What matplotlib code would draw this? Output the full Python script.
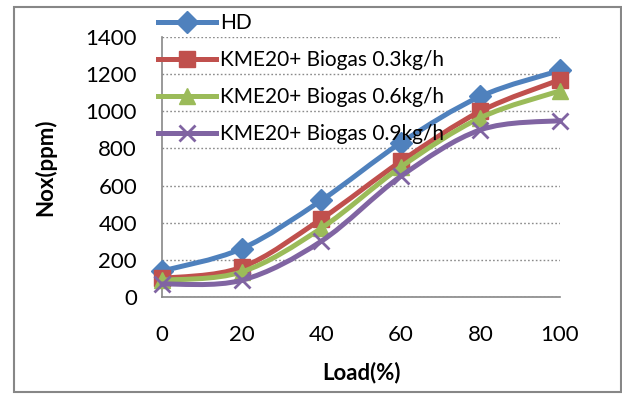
import matplotlib
matplotlib.use('Agg')
import matplotlib.pyplot as plt
from matplotlib.path import Path
from matplotlib.patches import PathPatch, Rectangle
from matplotlib.lines import Line2D
import numpy as np

loads = [0, 20, 40, 60, 80, 100]
hd = [140, 260, 520, 830, 1080, 1220]
b03 = [100, 160, 420, 730, 1000, 1170]
b06 = [90, 135, 370, 700, 965, 1110]
b09 = [70, 90, 300, 650, 900, 950]
labels = ['HD', 'KME20+ Biogas 0.3kg/h', 'KME20+ Biogas 0.6kg/h', 'KME20+ Biogas 0.9kg/h']
y_ticks = [0, 200, 400, 600, 800, 1000, 1200, 1400]

colors = ['#4F81BD', '#C0504D', '#9BBB59', '#8064A2']
markers = ['D', 's', '^', 'x']
msizes = [11, 11, 12, 12]

plt.rcParams['font.family'] = ['Lato', 'DejaVu Sans']

W, H = 622, 394
fig = plt.figure(figsize=(W / 100, H / 100), dpi=100)
ax = fig.add_axes([162 / W, 1 - 297 / H, (560 - 162) / W, (297 - 37) / H])


def smooth_path(x, y):
    pts = np.column_stack([x, y]).astype(float)
    n = len(pts)
    verts = [pts[0]]
    codes = [Path.MOVETO]
    for i in range(n - 1):
        p0 = pts[i - 1] if i > 0 else pts[i]
        p1 = pts[i]
        p2 = pts[i + 1]
        p3 = pts[i + 2] if i + 2 < n else pts[i + 1]
        c1 = p1 + (p2 - p0) / 6.0
        c2 = p2 - (p3 - p1) / 6.0
        verts += [c1, c2, p2]
        codes += [Path.CURVE4] * 3
    return Path(verts, codes)


series = [hd, b03, b06, b09]
handles = []
for k, (vals, c, m, ms) in enumerate(zip(series, colors, markers, msizes)):
    z = 3 + k
    patch = PathPatch(smooth_path(loads, vals), facecolor='none', edgecolor=c,
                      lw=3.6, capstyle='round', joinstyle='round', zorder=z, clip_on=False)
    ax.add_patch(patch)
    mew = 2.0 if m == 'x' else 1.0
    ax.plot(loads, vals, linestyle='none', marker=m, ms=ms, color=c, mec=c, mew=mew,
            zorder=z, clip_on=False)
    handles.append(Line2D([], [], color=c, lw=3.6, marker=m, ms=ms, mec=c, mew=mew))

ax.set_xlim(0, 100)
ax.set_ylim(0, 1400)
ax.set_xticks(loads)
ax.set_yticks(y_ticks)
ax.tick_params(axis='y', length=0, labelsize=16, pad=18)
ax.tick_params(axis='x', length=0, labelsize=16, pad=20)
ax.grid(axis='y', linestyle=(0, (1.2, 1.6)), color='#8a8a8a', lw=1.0)
ax.set_axisbelow(True)
for s in ['top', 'right']:
    ax.spines[s].set_visible(False)
for s in ['left', 'bottom']:
    ax.spines[s].set_color('#878787')
    ax.spines[s].set_linewidth(1.2)

ax.set_xlabel('Load(%)', fontsize=16, fontweight='bold', labelpad=12)
ax.set_ylabel('Nox(ppm)', fontsize=16, fontweight='bold', labelpad=21)

leg = fig.legend(handles, labels, loc='upper left', bbox_to_anchor=(158 / W, 1 - 13 / H),
                 frameon=False, fontsize=15, handlelength=2.8, handletextpad=0.2,
                 labelspacing=0.82, borderpad=0, borderaxespad=0, numpoints=1)
leg.set_zorder(10)

fig.patches.append(Rectangle((14 / W, 1 - 392 / H), (621 - 14) / W, (392 - 7) / H,
                             transform=fig.transFigure, fill=False, edgecolor='#878787',
                             lw=1.5, zorder=0))

fig.savefig('out.png', dpi=100)
